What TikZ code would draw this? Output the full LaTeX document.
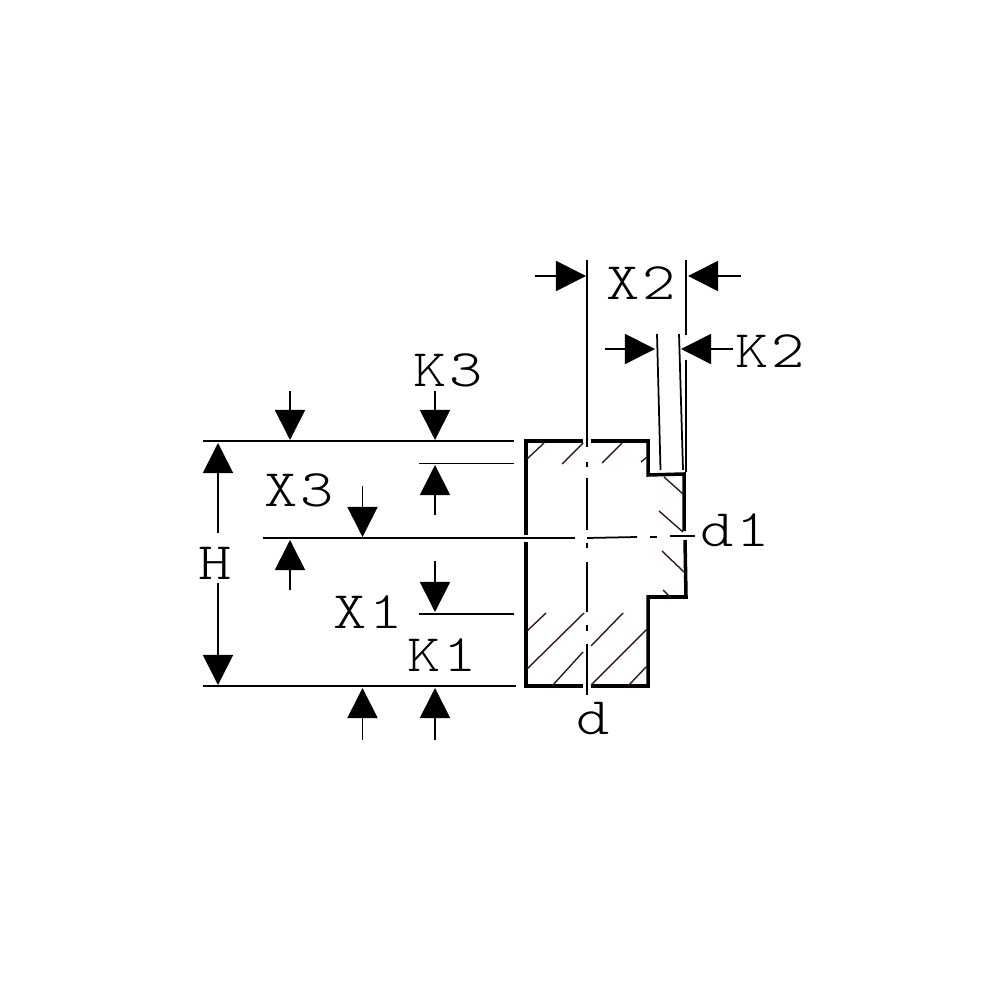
\documentclass[tikz,border=0pt]{standalone}
\usepackage{fontspec}
\setmonofont[FakeStretch=1.2,LetterSpace=6]{Latin Modern Mono Light}
\usetikzlibrary{arrows.meta}
\definecolor{hatchcol}{RGB}{50,25,35}
\tikzset{
	thinline/.style={line width=0.5pt, black},
	bodyline/.style={line width=1pt, black},
	hatchline/.style={line width=0.4pt, hatchcol},
	dimarrow/.style={line width=0.5pt, -{Triangle[length=8.6pt,width=8.6pt]}},
	dimlabel/.style={font=\fontsize{15}{15}\ttfamily, inner sep=0pt}
}
\begin{document}
\begin{tikzpicture}[yscale=-1]
	\useasboundingbox (0,0) rectangle (10,10);
	% body outline
	\draw[bodyline] (5.83,4.41) -- (5.26,4.41) -- (5.26,5.35);
	\draw[bodyline] (5.26,5.42) -- (5.26,6.86) -- (5.83,6.86);
	\draw[bodyline] (5.91,6.86) -- (6.48,6.86) -- (6.48,5.97) -- (6.86,5.97) -- (6.85,5.40);
	\draw[bodyline] (6.84,5.31) -- (6.84,4.74) -- (6.48,4.75) -- (6.48,4.41) -- (5.91,4.41);
	% hatching
	\draw[hatchline] (5.27,4.59) -- (5.44,4.43);
	\draw[hatchline] (5.62,4.64) -- (5.83,4.43);
	\draw[hatchline] (6.02,4.63) -- (6.22,4.43);
	\draw[hatchline] (6.41,4.62) -- (6.47,4.57);
	\draw[hatchline] (6.64,4.77) -- (6.83,4.94);
	\draw[hatchline] (6.59,5.11) -- (6.83,5.32);
	\draw[hatchline] (6.62,5.51) -- (6.84,5.72);
	\draw[hatchline] (6.63,5.90) -- (6.70,5.97);
	\draw[hatchline] (5.27,6.31) -- (5.46,6.13);
	\draw[hatchline] (5.27,6.69) -- (5.84,6.13);
	\draw[hatchline] (5.52,6.86) -- (5.83,6.52);
	\draw[hatchline] (5.91,6.46) -- (6.23,6.13);
	\draw[hatchline] (5.91,6.85) -- (6.47,6.29);
	\draw[hatchline] (6.28,6.86) -- (6.47,6.66);
	% centre lines
	\draw[thinline] (5.87,2.60) -- (5.87,4.47);
	\draw[thinline] (5.87,4.62) -- (5.87,4.67);
	\draw[thinline] (5.87,4.78) -- (5.87,5.30);
	\draw[thinline] (5.87,5.43) -- (5.87,5.48);
	\draw[thinline] (5.87,5.62) -- (5.87,6.12);
	\draw[thinline] (5.87,6.25) -- (5.87,6.31);
	\draw[thinline] (5.87,6.44) -- (5.87,6.95);
	\draw[thinline] (2.63,5.38) -- (5.75,5.38);
	\draw[thinline] (5.87,5.38) -- (6.37,5.37);
	\draw[thinline] (6.50,5.37) -- (6.57,5.37);
	\draw[thinline] (6.70,5.36) -- (6.95,5.36);
	% extension lines
	\draw[thinline] (2.03,4.41) -- (5.14,4.41);
	\draw[thinline] (4.19,4.635) -- (5.14,4.635);
	\draw[thinline] (4.19,6.14) -- (5.14,6.14);
	\draw[thinline] (2.03,6.86) -- (5.16,6.86);
	\draw[thinline] (6.86,2.60) -- (6.86,3.35);
	\draw[thinline] (6.86,3.60) -- (6.86,4.72);
	\draw[thinline] (6.57,3.34) -- (6.605,4.70);
	\draw[thinline] (6.79,3.34) -- (6.83,4.70);
	% dimension arrows
	\draw[dimarrow] (2.18,5.33) -- (2.18,4.43);
	\draw[dimarrow] (2.18,5.83) -- (2.18,6.85);
	\draw[dimarrow] (2.90,3.91) -- (2.90,4.40);
	\draw[dimarrow] (4.35,3.91) -- (4.35,4.40);
	\draw[dimarrow] (4.35,5.15) -- (4.35,4.65);
	\draw[dimarrow] (3.625,4.86) -- (3.625,5.37);
	\draw[dimarrow] (2.90,5.90) -- (2.90,5.40);
	\draw[dimarrow] (4.35,5.61) -- (4.35,6.12);
	\draw[dimarrow] (3.625,7.40) -- (3.625,6.88);
	\draw[dimarrow] (4.35,7.40) -- (4.35,6.88);
	\draw[dimarrow] (5.35,2.76) -- (5.86,2.76);
	\draw[dimarrow] (7.41,2.76) -- (6.88,2.76);
	\draw[dimarrow] (6.05,3.49) -- (6.55,3.49);
	\draw[dimarrow] (7.33,3.49) -- (6.81,3.49);
	% labels
	\node[dimlabel] (labelXtwo) at (6.41,2.83) {X2};
	\node[dimlabel] (labelKtwo) at (7.70,3.51) {K2};
	\node[dimlabel] (labelKthree) at (4.48,3.70) {K3};
	\node[dimlabel] (labelXthree) at (2.99,4.90) {X3};
	\node[dimlabel] (labelH) at (2.15,5.63) {H};
	\node[dimlabel] (labelXone) at (3.68,6.12) {X1};
	\node[dimlabel] (labelKone) at (4.42,6.55) {K1};
	\node[dimlabel] (labelDone) at (7.35,5.30) {d1};
	\node[dimlabel] (labelD) at (5.93,7.19) {d};
\end{tikzpicture}
\end{document}
